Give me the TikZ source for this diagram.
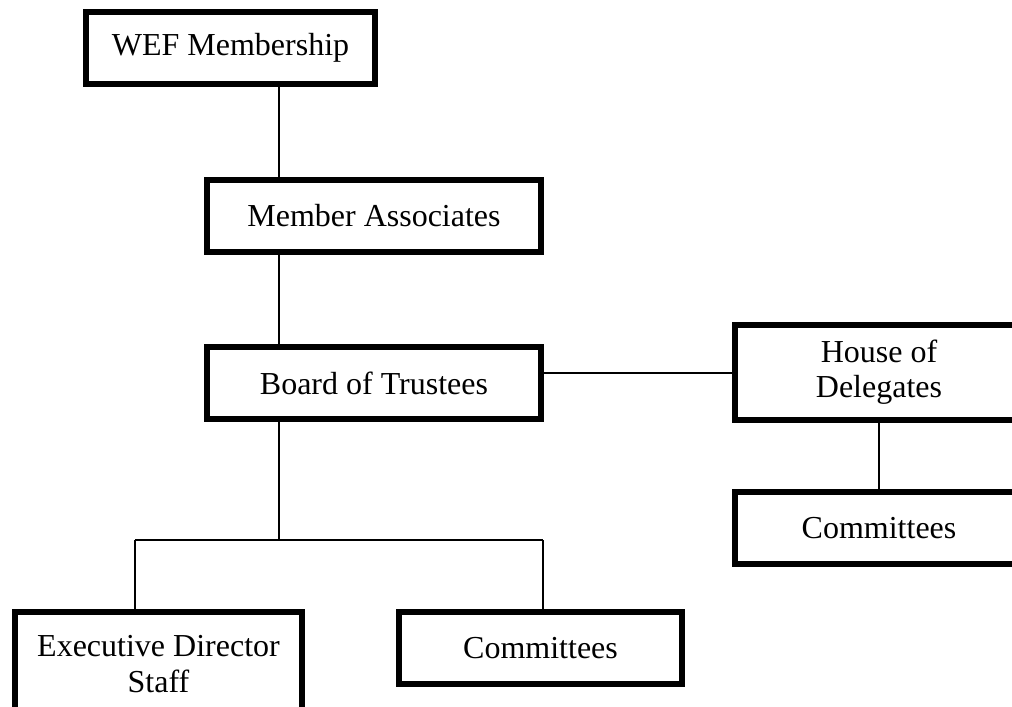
\documentclass[tikz,border=0pt]{standalone}
\usepackage{fontspec}
\setmainfont{Liberation Serif}
\begin{document}
\begin{tikzpicture}[x=0.75pt,y=-0.75pt,
        box/.style={draw, line width=4.5pt, inner sep=0pt, align=center,
            font=\fontsize{24}{26.5}\selectfont},
        link/.style={draw, line width=1.5pt}]
        \clip (0,0) rectangle (1012,706);
        \node[box, minimum width=216.75pt, minimum height=54pt] (wef) at (230.5,48) {WEF Membership};
        \node[box, minimum width=250.5pt, minimum height=54pt] (ma) at (374,216) {Member Associates};
        \node[box, minimum width=250.5pt, minimum height=54pt] (bot) at (374,383) {Board of Trustees};
        \node[box, minimum width=216pt, minimum height=71.25pt] (hod) at (879,372.5) {House of\\Delegates};
        \node[box, minimum width=216pt, minimum height=54pt] (hcom) at (879,528) {Committees};
        \node[box, minimum width=215.25pt, minimum height=78pt] (eds) at (158.5,664) {Executive Director\\Staff};
        \node[box, minimum width=212.25pt, minimum height=54pt] (com) at (540.5,648) {Committees};

        \coordinate (trunk) at (279,0);
        \coordinate (lft) at (135,540);
        \coordinate (rgt) at (543,540);
        \coordinate (split) at (279,540);

        \path[link] (wef.south -| trunk) -- (ma.north -| trunk);
        \path[link] (ma.south -| trunk) -- (bot.north -| trunk);
        \path[link] (bot.south -| trunk) -- (split);
        \path[link] (lft) -- (rgt);
        \path[link] (lft) -- (lft |- eds.north);
        \path[link] (rgt) -- (rgt |- com.north);
        \path[link] (bot.east |- hod.west) -- (hod.west);
        \path[link] (hod.south) -- (hcom.north);
    \end{tikzpicture}
\end{document}
